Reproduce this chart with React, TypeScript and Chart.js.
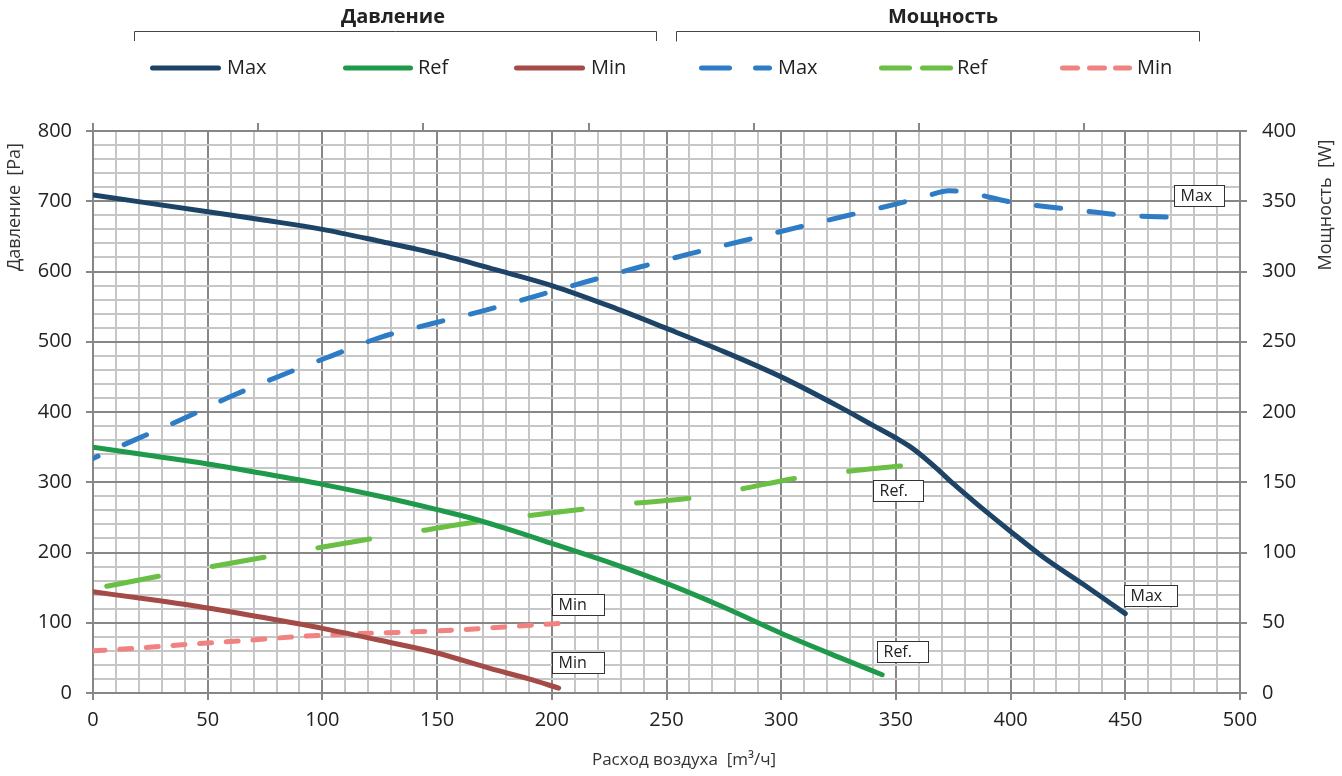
import React, { useEffect, useRef } from 'react';
import { Chart, registerables } from 'chart.js';

Chart.register(...registerables);

const FONT = '"Open Sans", "Noto Sans", sans-serif';

// ---------- data (airflow m³/h, pressure Pa, power W) ----------
const pressureMaxFlow = [0, 25, 50, 75, 100, 125, 150, 175, 200, 225, 250, 275, 300, 325, 340, 350, 356, 362, 368, 375, 385, 400, 414, 432, 450];
const pressureMax = [709, 697, 685, 673, 660, 643, 625, 603, 580, 551, 519, 486, 450, 408, 381, 363, 351, 336, 319, 298, 270, 230, 194, 154, 113];

const pressureRefFlow = [0, 25, 50, 75, 100, 125, 150, 167, 185, 200, 225, 250, 275, 300, 325, 344];
const pressureRef = [350, 338, 326, 312, 297, 280, 261, 247, 229, 213, 186, 156, 122, 85, 51, 26];

const pressureMinFlow = [0, 25, 50, 75, 100, 125, 150, 173, 190, 203];
const pressureMin = [144, 133, 121, 107, 92, 75, 57, 35, 20, 7];

const powerMaxFlow = [0, 18, 39, 60, 82, 104, 125, 148, 170, 193, 215, 238, 260, 283, 305, 328, 350, 364, 373, 382, 400, 425, 450, 471];
const powerMax = [167, 180, 195, 211, 226, 240, 253, 263, 272, 282.5, 292.7, 303, 312.5, 321.7, 330.5, 339.5, 348, 354, 357.5, 356, 349.5, 344.5, 340, 338.5];

const powerRefFlow = [6, 30, 52, 76, 97, 122, 143, 168, 189, 214, 236, 260, 282, 306, 328, 352];
const powerRef = [76, 83.5, 90, 97, 103, 110, 115.5, 122, 126, 131, 135, 138.6, 145, 152.8, 157.5, 161.6];

const powerMinFlow = [0, 18, 41, 65, 88, 111, 134, 158, 181, 204];
const powerMin = [30, 31.8, 34.6, 37.2, 40, 42, 43.2, 44.8, 47.2, 49.6];

// top axis ticks in l/s (converted to m³/h)
const topTicksLps = [0, 20, 40, 60, 80, 100, 120];

const seriesLabels = ['Max', 'Ref', 'Min'];
const groupTitles = ['Давление', 'Мощность'];
const xTitle = 'Расход воздуха  [m³/ч]';
const yTitle = 'Давление  [Pa]';
const y2Title = 'Мощность  [W]';

// ---------- styles ----------
const COLORS = {
  pMax: '#1d4467',
  pRef: '#1f9a4b',
  pMin: '#a44a47',
  wMax: '#2e7cc6',
  wRef: '#6abf45',
  wMin: '#f08282',
};
const GRID_MINOR = '#c6c6c6';
const GRID_MAJOR = '#878787';
const TEXT = '#222222';

const pts = (xs: number[], ys: number[]) => xs.map((x, i) => ({ x, y: ys[i] }));

// legend layout (pixels)
const legendGroups = [
  {
    title: groupTitles[0], cx: 393, bx0: 134, bx1: 656,
    items: [
      { label: seriesLabels[0], color: COLORS.pMax, segs: [[150, 221]], tx: 227 },
      { label: seriesLabels[1], color: COLORS.pRef, segs: [[343, 413]], tx: 418 },
      { label: seriesLabels[2], color: COLORS.pMin, segs: [[514, 585]], tx: 591 },
    ],
  },
  {
    title: groupTitles[1], cx: 943, bx0: 676, bx1: 1199,
    items: [
      { label: seriesLabels[0], color: COLORS.wMax, segs: [[699, 732], [753, 772]], tx: 778 },
      { label: seriesLabels[1], color: COLORS.wRef, segs: [[879, 912], [920, 953]], tx: 957 },
      { label: seriesLabels[2], color: COLORS.wMin, segs: [[1060, 1080], [1087, 1107], [1113, 1132]], tx: 1137 },
    ],
  },
];

// end-of-curve label boxes: dataset index, text, offset of box top-left from curve end
const endLabels = [
  { ds: 0, text: 'Max', dx: -1, dy: -29, w: 53 },
  { ds: 1, text: 'Ref.', dx: -5, dy: -34, w: 51 },
  { ds: 2, text: 'Min', dx: -7, dy: -36, w: 52 },
  { ds: 3, text: 'Max', dx: 1, dy: -32, w: 50 },
  { ds: 4, text: 'Ref.', dx: -27, dy: 14, w: 50 },
  { ds: 5, text: 'Min', dx: -9, dy: -29, w: 52 },
];

const overlayPlugin = {
  id: 'overlay',
  afterDraw(chart: any) {
    const ctx = chart.ctx as CanvasRenderingContext2D;
    ctx.save();
    // group headers + brackets + legend
    for (const g of legendGroups) {
      ctx.fillStyle = TEXT;
      ctx.font = `bold 20px ${FONT}`;
      ctx.textAlign = 'center';
      ctx.textBaseline = 'middle';
      ctx.fillText(g.title, g.cx, 17);
      ctx.strokeStyle = '#444';
      ctx.lineWidth = 1;
      ctx.setLineDash([]);
      ctx.beginPath();
      ctx.moveTo(g.bx0 + 0.5, 41);
      ctx.lineTo(g.bx0 + 0.5, 31.5);
      ctx.lineTo(g.bx1 + 0.5, 31.5);
      ctx.lineTo(g.bx1 + 0.5, 41);
      ctx.stroke();
      for (const it of g.items) {
        ctx.strokeStyle = it.color;
        ctx.lineWidth = 5;
        ctx.lineCap = 'round';
        for (const [a, b] of it.segs) {
          ctx.beginPath();
          ctx.moveTo(a + 2.5, 68);
          ctx.lineTo(b - 2.5, 68);
          ctx.stroke();
        }
        ctx.fillStyle = TEXT;
        ctx.font = `20px ${FONT}`;
        ctx.textAlign = 'left';
        ctx.textBaseline = 'middle';
        ctx.fillText(it.label, it.tx, 68);
      }
    }
    // axis titles
    ctx.fillStyle = '#333';
    ctx.font = `17px ${FONT}`;
    ctx.textAlign = 'center';
    ctx.textBaseline = 'middle';
    ctx.fillText(xTitle, 684, 760);
    ctx.font = `18px ${FONT}`;
    ctx.save();
    ctx.translate(15, 207);
    ctx.rotate(-Math.PI / 2);
    ctx.fillText(yTitle, 0, 0);
    ctx.restore();
    ctx.save();
    ctx.translate(1326, 205);
    ctx.rotate(-Math.PI / 2);
    ctx.fillText(y2Title, 0, 0);
    ctx.restore();
    // end labels
    for (const l of endLabels) {
      const meta = chart.getDatasetMeta(l.ds);
      const p = meta.data[meta.data.length - 1];
      const x = Math.round(p.x + l.dx) + 0.5;
      const y = Math.round(p.y + l.dy) + 0.5;
      ctx.fillStyle = '#ffffff';
      ctx.fillRect(x, y, l.w, 21);
      ctx.strokeStyle = '#333';
      ctx.lineWidth = 1;
      ctx.strokeRect(x, y, l.w, 21);
      ctx.fillStyle = TEXT;
      ctx.font = `16px ${FONT}`;
      ctx.textAlign = 'left';
      ctx.textBaseline = 'middle';
      ctx.fillText(l.text, x + 6, y + 11);
    }
    ctx.restore();
  },
};

export default function App() {
  const ref = useRef<HTMLCanvasElement | null>(null);
  useEffect(() => {
    if (!ref.current) return;
    const lineBase = {
      borderWidth: 5,
      pointRadius: 0,
      pointHoverRadius: 0,
      fill: false,
      cubicInterpolationMode: 'monotone' as const,
      borderCapStyle: 'round' as const,
      borderJoinStyle: 'round' as const,
    };
    const chart = new Chart(ref.current, {
      type: 'line',
      data: {
        datasets: [
          { ...lineBase, label: 'pMax', data: pts(pressureMaxFlow, pressureMax), borderColor: COLORS.pMax, yAxisID: 'y' },
          { ...lineBase, label: 'pRef', data: pts(pressureRefFlow, pressureRef), borderColor: COLORS.pRef, yAxisID: 'y' },
          { ...lineBase, label: 'pMin', data: pts(pressureMinFlow, pressureMin), borderColor: COLORS.pMin, yAxisID: 'y' },
          { ...lineBase, label: 'wMax', data: pts(powerMaxFlow, powerMax), borderColor: COLORS.wMax, yAxisID: 'y2', borderDash: [24.5, 28.5], borderDashOffset: 19 },
          { ...lineBase, label: 'wRef', data: pts(powerRefFlow, powerRef), borderColor: COLORS.wRef, yAxisID: 'y2', borderDash: [52.6, 54.7] },
          { ...lineBase, label: 'wMin', data: pts(powerMinFlow, powerMin), borderColor: COLORS.wMin, yAxisID: 'y2', borderDash: [12, 14.7] },
        ],
      },
      options: {
        animation: false,
        responsive: false,
        devicePixelRatio: 1,
        layout: { padding: 0 },
        plugins: { legend: { display: false }, tooltip: { enabled: false }, title: { display: false } },
        scales: {
          x: {
            type: 'linear',
            position: 'bottom',
            min: 0,
            max: 500,
            afterFit: (s: any) => { s.height = 83; },
            ticks: {
              stepSize: 10,
              autoSkip: false,
              maxRotation: 0,
              padding: 8,
              color: TEXT,
              font: { family: FONT, size: 20 },
              callback: (v: any) => (Number(v) % 50 === 0 ? String(v) : ''),
            },
            grid: {
              lineWidth: 2,
              tickLength: 7,
              color: (c: any) => (c.tick && c.tick.value % 50 === 0 ? GRID_MAJOR : GRID_MINOR),
              tickColor: (c: any) => (c.tick && c.tick.value % 50 === 0 ? GRID_MAJOR : 'rgba(0,0,0,0)'),
            },
            border: { color: GRID_MAJOR, width: 2 },
          },
          x2: {
            type: 'linear',
            position: 'top',
            min: 0,
            max: 500,
            afterFit: (s: any) => { s.height = 131; },
            afterBuildTicks: (s: any) => { s.ticks = topTicksLps.map((v) => ({ value: v * 3.6 })); },
            ticks: { display: false },
            grid: { drawOnChartArea: false, tickLength: 8, color: GRID_MAJOR, lineWidth: 2 },
            border: { color: GRID_MAJOR, width: 2 },
          },
          y: {
            type: 'linear',
            position: 'left',
            min: 0,
            max: 800,
            afterFit: (s: any) => { s.width = 93; },
            ticks: {
              stepSize: 20,
              autoSkip: false,
              padding: 14,
              color: TEXT,
              font: { family: FONT, size: 20 },
              callback: (v: any) => (Number(v) % 100 === 0 ? String(v) : ''),
            },
            grid: {
              lineWidth: 2,
              tickLength: 7,
              color: (c: any) => (c.tick && c.tick.value % 100 === 0 ? GRID_MAJOR : GRID_MINOR),
              tickColor: (c: any) => (c.tick && c.tick.value % 100 === 0 ? GRID_MAJOR : 'rgba(0,0,0,0)'),
            },
            border: { color: GRID_MAJOR, width: 2 },
          },
          y2: {
            type: 'linear',
            position: 'right',
            min: 0,
            max: 400,
            afterFit: (s: any) => { s.width = 102; },
            ticks: {
              stepSize: 50,
              autoSkip: false,
              padding: 15,
              color: TEXT,
              font: { family: FONT, size: 20 },
            },
            grid: { drawOnChartArea: false, tickLength: 7, color: GRID_MAJOR, lineWidth: 2 },
            border: { color: GRID_MAJOR, width: 2 },
          },
        },
      },
      plugins: [overlayPlugin],
    } as any);
    return () => chart.destroy();
  }, []);
  return (
    <div style={{ position: 'fixed', left: 0, top: 0, width: 1342, height: 776, background: '#fff' }}>
      <canvas ref={ref} width={1342} height={776} style={{ display: 'block' }} />
    </div>
  );
}
